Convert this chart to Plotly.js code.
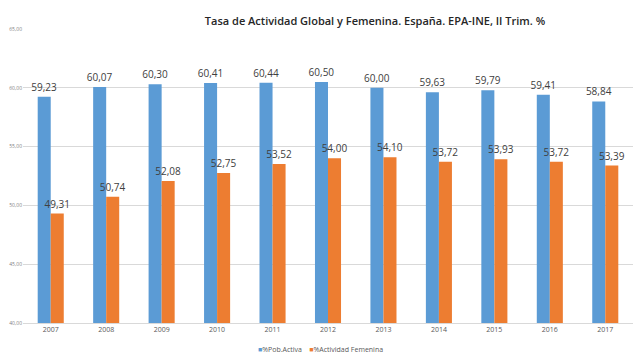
<!DOCTYPE html>
<html><head><meta charset="utf-8">
<script src="https://cdn.plot.ly/plotly-3.0.1.min.js"></script>
<style>body{margin:0}#c{width:640px;height:360px}</style>
</head><body><div id="c"></div>
<script>
const years = ['2007','2008','2009','2010','2011','2012','2013','2014','2015','2016','2017'];
const pobActiva = [59.23,60.07,60.30,60.41,60.44,60.50,60.00,59.63,59.79,59.41,58.84];
const actFemenina = [49.31,50.74,52.08,52.75,53.52,54.00,54.10,53.72,53.93,53.72,53.39];
const seriesNames = ['%Pob.Activa','%Actividad Femenina'];
const seriesColors = ['#5B9BD5','#ED7D31'];
const tickVals = [40,45,50,55,60,65];

const common = {type:'bar', texttemplate:'%{y:.2f}', textposition:'outside', cliponaxis:false, constraintext:'none',
  textangle:0, showlegend:false,
  textfont:{family:'"Open Sans", sans-serif', size:10, color:'#404040'}, hoverinfo:'skip'};
const data = [
  Object.assign({x:years, y:pobActiva, name:seriesNames[0], marker:{color:seriesColors[0]}}, common),
  Object.assign({x:years, y:actFemenina, name:seriesNames[1], marker:{color:seriesColors[1]}}, common)
];
const legendText = seriesNames.map((n,i)=>'<span style="color:'+seriesColors[i]+'">■</span>'+n).join('&nbsp;&nbsp;&nbsp;&nbsp;');
const layout = {
  width:640, height:360, separators:',.',
  margin:{l:23, r:7, t:29, b:37, autoexpand:false},
  paper_bgcolor:'#fff', plot_bgcolor:'#fff',
  barmode:'group', bargap:0.53, bargroupgap:0,
  font:{family:'"Open Sans", sans-serif', color:'#595959'},
  title:{text:'Tasa de Actividad Global y Femenina. España. EPA-INE, II Trim. %', x:0.586, xanchor:'center', y:0.942, yanchor:'middle',
    font:{family:'"Open Sans", sans-serif', size:11, weight:600, color:'#262626'}},
  xaxis:{type:'category', tickfont:{size:7, color:'#595959'}, showline:true, linecolor:'#D9D9D9', ticks:'', showgrid:false},
  yaxis:{range:[40,65], tickvals:tickVals, tickformat:'.2f', tickfont:{size:5, color:'#7f7f7f'},
    gridcolor:'#D9D9D9', zeroline:false, ticks:'', fixedrange:true, automargin:false},
  showlegend:false,
  annotations:[{xref:'paper', yref:'paper', x:(320-23)/610, y:-(349-323)/294, xanchor:'center', yanchor:'middle',
    showarrow:false, text:legendText, font:{size:7, color:'#595959'}}]
};
Plotly.newPlot('c', data, layout, {displayModeBar:false, staticPlot:true});
</script></body></html>
